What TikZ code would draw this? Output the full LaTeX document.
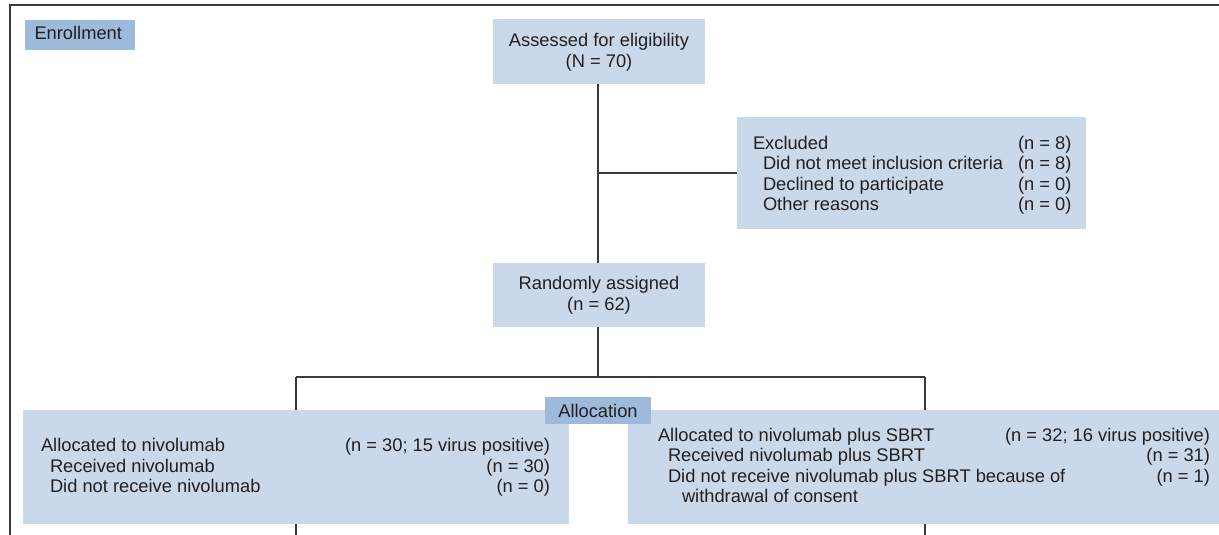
\documentclass[tikz,border=0pt]{standalone}
\usepackage{fontspec}
\setmainfont{Liberation Sans}
\definecolor{boxfill}{HTML}{C9D9EA}
\definecolor{labfill}{HTML}{9DBADB}
\definecolor{linec}{HTML}{3A3A3A}
\definecolor{txt}{HTML}{231F20}
\begin{document}
\begin{tikzpicture}[x=1pt,y=-1pt,
  every node/.style={inner sep=0pt,outer sep=0pt,text=txt,font=\fontsize{18.3}{20.5}\selectfont},
  box/.style={fill=boxfill,draw=none,rectangle},
  lab/.style={fill=labfill,draw=none,rectangle},
  conn/.style={draw=linec,line width=1.4pt},
  frame/.style={draw=linec,line width=2pt},
  tl/.style={anchor=base west},
  tr/.style={anchor=base east},
  tc/.style={anchor=base}]
\useasboundingbox (0,0) rectangle (1219,535);
% frame
\draw[frame] (9.5,535) -- (9.5,5.5) -- (1219,5.5);
% boxes
\node[lab,minimum width=110pt,minimum height=30pt] (enr) at (80,35) {};
\node[tl] (enrt) at (34.5,39.5) {Enrollment};

\node[box,minimum width=212pt,minimum height=65pt] (assess) at (599,51.5) {};
\node[tc] (a1) at (599,47) {Assessed for eligibility};
\node[tc] (a2) at (599,67.5) {(N = 70)};

\node[box,minimum width=349pt,minimum height=112pt] (excl) at (911.5,173) {};
\node[tl] (e1) at (753,149) {Excluded};
\node[tl] (e2) at (763,169.5) {Did not meet inclusion criteria};
\node[tl] (e3) at (763,190) {Declined to participate};
\node[tl] (e4) at (763,210.5) {Other reasons};
\node[tl] (e1n) at (1018,149) {(n = 8)};
\node[tl] (e2n) at (1018,169.5) {(n = 8)};
\node[tl] (e3n) at (1018,190) {(n = 0)};
\node[tl] (e4n) at (1018,210.5) {(n = 0)};

\node[box,minimum width=212pt,minimum height=64pt] (rand) at (599,295) {};
\node[tc] (r1) at (599,289.5) {Randomly assigned};
\node[tc] (r2) at (599,310) {(n = 62)};

\node[box,minimum width=546pt,minimum height=114pt] (left) at (296,467) {};
\node[tl] (l1) at (41,451.5) {Allocated to nivolumab};
\node[tl] (l2) at (50,472) {Received nivolumab};
\node[tl] (l3) at (50,492.5) {Did not receive nivolumab};
\node[tr] (l1n) at (550,451.5) {(n = 30; 15 virus positive)};
\node[tr] (l2n) at (550,472) {(n = 30)};
\node[tr] (l3n) at (550,492.5) {(n = 0)};

\node[box,minimum width=591pt,minimum height=114pt] (right) at (923.5,467) {};
\node[tl] (q1) at (658,441) {Allocated to nivolumab plus SBRT};
\node[tl] (q2) at (668,461.5) {Received nivolumab plus SBRT};
\node[tl] (q3) at (668,482) {Did not receive nivolumab plus SBRT because of};
\node[tl] (q4) at (682,502.5) {withdrawal of consent};
\node[tr] (q1n) at (1210,441) {(n = 32; 16 virus positive)};
\node[tr] (q2n) at (1210,461.5) {(n = 31)};
\node[tr] (q3n) at (1210,482) {(n = 1)};

\node[lab,minimum width=106pt,minimum height=27pt] (alloc) at (598,410.5) {};
\node[tc] (alloct) at (598,417) {Allocation};

% connectors
\coordinate (j1) at (598,173);
\coordinate (split) at (598,377);
\coordinate (sl) at (296,377);
\coordinate (sr) at (925,377);
\coordinate (bl) at (296,535);
\coordinate (br) at (925,535);
\draw[conn] (598,84) coordinate (as) -- (598,263) coordinate (rn);
\draw[conn] (j1) -- (excl.west |- j1);
\draw[conn] (598,327) coordinate (rs) -- (split);
\draw[conn] (sl) -- (sr);
\draw[conn] (sl) -- (296,410) coordinate (lt);
\draw[conn] (sr) -- (925,410) coordinate (rt);
\draw[conn] (296,524) coordinate (lb) -- (bl);
\draw[conn] (925,524) coordinate (rb) -- (br);
\end{tikzpicture}
\end{document}
